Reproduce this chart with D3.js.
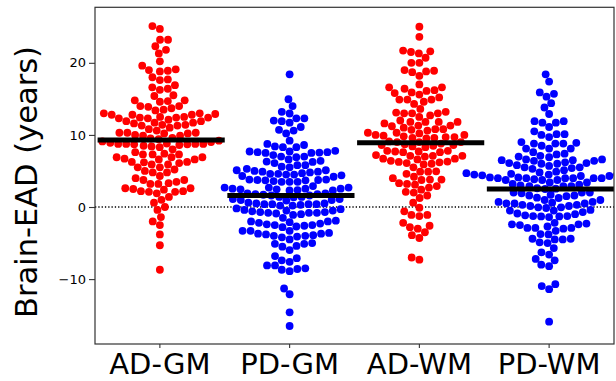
<!DOCTYPE html>
<html>
<head>
<meta charset="utf-8">
<script src="https://cdn.jsdelivr.net/npm/d3@7"></script>
<style>
  body { margin: 0; background: #fff; }
  text { font-family: "DejaVu Sans", sans-serif; fill: #000; }
</style>
</head>
<body>
<svg id="chart" width="616" height="381"></svg>
<script>
const groups = ["AD-GM", "PD-GM", "AD-WM", "PD-WM"];
const groupColors = ["#ff0000", "#0000ff", "#ff0000", "#0000ff"];

// Brain-EAD values (years)
const adGm = [25.1, 24.7, 23.2, 23.2, 22.3, 21.8, 21.3, 20.2, 19.6, 19.0, 18.8, 18.9, 19.1, 18.0, 17.6, 17.7,
  16.9, 16.25, 16.4, 16.6, 15.4, 15.5, 14.8, 14.6, 14.7, 14.8, 14.0, 14.0, 13.9, 13.7, 13.4, 13.5,
  13.0, 12.5, 11.9, 12.8, 11.7, 12.4, 11.4, 12.3, 11.3, 12.3, 12.9, 11.9, 12.4, 12.4, 12.8, 11.6,
  12.8, 11.7, 12.1, 12.5, 13.0, 11.3, 11.4, 10.8, 10.6, 11.0,
  10.3, 10.0, 9.9, 10.3, 9.9, 10.3, 9.6, 10.2, 10.2, 9.4, 9.2, 9.1, 9.5, 9.0,
  8.75, 8.75, 8.7, 8.5, 8.3, 8.7, 8.9, 8.0, 8.4, 8.6, 8.75, 8.75, 8.8,
  6.9, 6.6, 7.4, 6.25, 7.3, 6.1, 7.3, 5.9, 6.6, 7.6, 6.9, 5.9, 7.3, 6.2, 6.25, 6.7, 6.9,
  5.5, 4.8, 5.5, 5.2, 4.3, 4.8, 5.0, 3.75, 3.5, 3.2, 3.3, 3.2, 3.75, 4.0,
  2.6, 2.2, 2.1, 1.4, 2.1, 2.4, 1.9, 2.2, 2.5, 2.6,
  0.6, 1.0, 0.0, -0.4, -1.4, -2.0, -2.5, -3.8, -5.3, -8.7];

const pdGm = [18.4, 14.95, 14.0, 13.2, 12.97, 12.3, 11.99, 11.7, 11.9, 12.3, 10.6, 10.2, 10.7, 11.1,
  8.75, 9.2, 8.3, 8.6, 8.3, 8.4, 7.8,
  7.7, 7.6, 7.55, 7.5, 7.0, 6.9, 6.6, 6.3, 7.0, 7.2, 7.5, 7.6, 7.7,
  6.25, 5.8, 5.6, 5.5, 5.0, 5.8, 6.1, 6.4,
  5.3, 4.9, 4.7, 4.6, 4.5, 4.4, 4.9, 4.5, 4.6, 4.8, 5.1, 5.1,
  4.3, 3.8, 3.75, 3.6, 3.5, 3.7, 3.5, 3.75, 3.5, 3.7, 3.8, 4.2,
  2.9, 2.7, 2.35, 2.3, 2.55, 2.7, 2.45, 2.55, 2.3, 2.45, 2.55, 2.7,
  1.9, 1.7, 1.8, 1.6, 1.4, 1.4, 1.35, 1.6, 1.8, 1.9, 1.1, 1.1,
  0.9, 0.6, 0.4, 0.97, 0.5, 0.3, 0.2, 0.2, 0.4, 0.4, 0.4, 0.5, 0.97,
  -0.3, -0.5, -0.7, -0.8, -0.2, -0.7, -0.9, -1.1, -1.0, -0.6, -0.8, -0.8, -0.5, -0.4,
  -1.9, -2.3, -2.5, -2.7, -2.0, -2.1, -2.8, -2.4, -2.0, -1.5, -2.6, -2.5, -2.2,
  -3.3, -3.3, -3.7, -3.8, -4.0, -4.1, -4.5, -4.2, -4.0, -3.9, -3.7, -3.6, -3.3,
  -5.0, -5.1, -5.5, -5.97, -5.4, -5.1,
  -7.1, -7.6, -7.4, -6.8,
  -8.1, -8.1, -8.7, -8.9, -8.6, -8.5,
  -11.3, -12.1, -14.6, -16.5];

const adWm = [25.0, 23.6, 21.7, 21.5, 21.3, 21.6, 20.7, 20.0, 20.0, 19.0, 18.7, 18.2, 18.8, 18.9,
  16.4, 16.2, 15.8, 16.6, 17.0, 15.9, 16.1, 16.6, 15.2, 14.9, 14.3, 14.9, 15.6, 14.6, 14.9,
  13.2, 13.1, 12.5, 13.6, 12.7, 13.0, 13.0, 13.0, 12.0, 11.8, 11.3, 11.6, 11.3, 11.8, 11.8, 11.8,
  10.8, 10.3, 10.3, 10.0, 11.0, 10.6, 11.2, 10.7, 10.8, 9.8, 9.6, 9.6, 9.7, 9.7,
  9.5, 10.2, 10.0, 9.9,
  8.6, 9.0, 8.7, 8.3, 9.0, 8.8, 8.4, 8.5, 9.0, 9.1, 8.6,
  7.8, 7.7, 7.6, 7.1, 7.0, 7.6, 7.1, 7.2, 7.7, 7.8, 6.7, 6.6, 6.3, 6.2, 6.0, 5.9, 5.5, 6.1, 6.25, 6.4, 6.7, 7.1,
  4.95, 4.9, 4.9, 4.2, 4.6, 3.8, 3.8, 3.75, 3.1, 3.2, 3.3, 4.0, 2.9, 2.7, 2.4, 2.0, 2.1, 1.6, 1.25, 0.6,
  -0.1, -0.6, -1.1, -1.25, -1.1, -2.2, -2.6, -2.8, -3.0, -3.9, -4.3, -3.5, -7.0, -7.3];

const pdWm = [18.4, 17.4, 15.9, 15.3, 15.7, 14.4, 13.8, 12.9,
  11.9, 11.7, 11.1, 11.7, 11.9, 10.1, 10.1, 9.7, 10.0, 10.5,
  9.0, 8.8, 8.1, 8.8, 8.1, 8.5, 8.8, 8.1, 8.9, 7.4, 7.1, 7.0, 7.3, 7.6,
  6.6, 6.4, 6.0, 5.8, 6.4, 6.1, 5.7, 6.2, 6.5, 6.9, 6.0, 6.1, 6.5, 6.6,
  4.8, 4.5, 4.5, 4.5, 5.4, 5.3, 4.9, 5.5, 5.1, 5.5, 4.7, 4.3, 4.3, 4.6, 4.7, 4.1,
  4.0, 3.75, 3.4, 3.2, 3.75, 4.0, 4.0, 4.0, 4.4, 4.0, 4.0, 4.1, 3.4, 3.75, 3.85,
  2.6, 2.55, 2.9, 3.0, 2.5, 2.9, 2.9, 3.1, 2.0,
  1.5, 1.9, 1.6, 1.3, 1.7, 1.6, 2.0, 2.0, 1.25,
  0.7, 0.14, -0.05, 0.6, -0.14, 0.5, -0.4, 0.3, 0.5, 0.97, 0.3, 0.97, 0.14, 0.7, -0.05, 0.5,
  -0.9, -1.4, -0.5, -1.25, -1.15, -0.7, -1.3, -1.0, -0.5, -1.3, -1.25,
  -2.3, -2.7, -2.9, -2.2, -2.4, -3.0, -2.5, -3.3, -2.9, -2.9, -2.4,
  -3.8, -4.4, -3.75, -4.5, -4.9, -4.4, -4.5, -5.0, -5.7,
  -6.6, -7.2, -7.4, -6.3, -8.0, -8.2,
  -10.97, -11.4, -10.7, -15.9];

const groupValues = [adGm, pdGm, adWm, pdWm];
const groupMeans = [9.3, 1.6, 8.9, 2.5];
const yTicks = [-10, 0, 10, 20];

const margin = { left: 95, right: 2, top: 7.3, bottom: 37 };
const width = 616, height = 381;
const svg = d3.select("#chart");

const x = d3.scaleBand().domain(groups).range([margin.left, width - margin.right]);
const y = d3.scaleLinear().domain([-19.0, 27.7]).range([height - margin.bottom, margin.top]);

const r = 3.9;
const gap = 8.0; // centre distance between neighbouring dots

// seaborn style beeswarm: place dots bottom-up, as close to the centre as possible
function swarm(values, cx) {
  const pts = values.map(v => ({ v, y: y(v) })).sort((a, b) => b.y - a.y);
  const placed = [];
  pts.forEach(p => {
    const nb = placed.filter(q => Math.abs(q.y - p.y) < gap);
    const cands = [cx];
    nb.forEach(q => {
      const dx = Math.sqrt(gap * gap - (q.y - p.y) ** 2);
      cands.push(q.x - dx, q.x + dx);
    });
    cands.sort((a, b) => Math.abs(a - cx) - Math.abs(b - cx));
    p.x = cands.find(c => nb.every(q => (q.x - c) ** 2 + (q.y - p.y) ** 2 >= gap * gap - 0.01));
    placed.push(p);
  });
  return placed;
}

svg.append("defs").append("clipPath").attr("id", "plot-clip")
  .append("rect")
  .attr("x", margin.left).attr("y", margin.top)
  .attr("width", width - margin.right - margin.left)
  .attr("height", height - margin.bottom - margin.top);

// zero line
svg.append("line")
  .attr("x1", margin.left).attr("x2", width - margin.right)
  .attr("y1", y(0)).attr("y2", y(0))
  .attr("stroke", "#000").attr("stroke-width", 1.3)
  .attr("stroke-dasharray", "1.3,2");

const plot = svg.append("g").attr("clip-path", "url(#plot-clip)");

groups.forEach((g, i) => {
  const cx = x(g) + x.bandwidth() / 2;
  plot.append("g").selectAll("circle")
    .data(swarm(groupValues[i], cx))
    .join("circle")
    .attr("cx", d => d.x)
    .attr("cy", d => d.y)
    .attr("r", r)
    .attr("fill", groupColors[i]);
});

// mean lines
plot.append("g").selectAll("line")
  .data(groups)
  .join("line")
  .attr("x1", g => x(g) + x.bandwidth() * 0.02)
  .attr("x2", g => x(g) + x.bandwidth() * 1.0)
  .attr("y1", (g, i) => y(groupMeans[i]))
  .attr("y2", (g, i) => y(groupMeans[i]))
  .attr("stroke", "#000")
  .attr("stroke-width", 5);

// axes
const yAxis = svg.append("g")
  .attr("transform", `translate(${margin.left},0)`)
  .call(d3.axisLeft(y).tickValues(yTicks).tickSize(6).tickPadding(3)
    .tickFormat(d => d < 0 ? "\u2212" + Math.abs(d) : d));
yAxis.select(".domain").remove();
yAxis.selectAll("line").attr("stroke", "#333").attr("stroke-width", 1.1);
yAxis.selectAll("text").attr("font-size", 13).attr("fill", "#222")
  .style("font-family", '"DejaVu Sans", sans-serif');

const xAxis = svg.append("g")
  .attr("transform", `translate(0,${height - margin.bottom})`)
  .call(d3.axisBottom(x).tickSize(4).tickPadding(0));
xAxis.select(".domain").remove();
xAxis.selectAll("line").attr("stroke", "#333").attr("stroke-width", 1.1);
xAxis.selectAll("text").attr("font-size", 29).attr("dy", null).attr("y", 29.5)
  .style("font-family", '"DejaVu Sans", sans-serif');

// frame
svg.append("rect")
  .attr("x", margin.left).attr("y", margin.top)
  .attr("width", width - margin.right - margin.left)
  .attr("height", height - margin.bottom - margin.top)
  .attr("fill", "none").attr("stroke", "#333").attr("stroke-width", 1.2);

svg.append("text")
  .attr("transform", `translate(37,182) rotate(-90)`)
  .attr("text-anchor", "middle")
  .attr("font-size", 30.5)
  .text("Brain-EAD (years)");
</script>
</body>
</html>
